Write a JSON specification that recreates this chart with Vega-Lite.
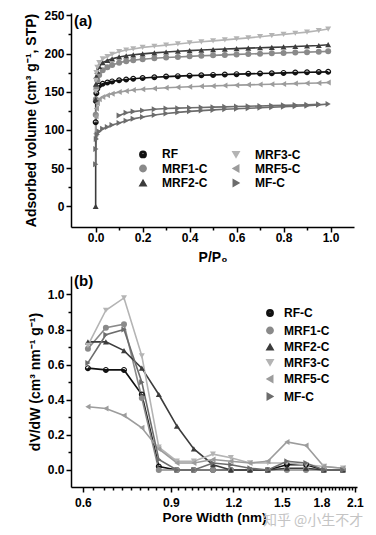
{
  "$schema": "https://vega.github.io/schema/vega-lite/v6.json",
  "background": "white",
  "padding": {"left": 24, "top": 9, "right": 5, "bottom": 5},
  "config": {
    "font": "Liberation Sans",
    "view": {"stroke": null},
    "axis": {"grid": false, "domainColor": "black", "domainWidth": 1.5, "tickColor": "black", "tickWidth": 1.5, "tickSize": 5,
      "labelFont": "Liberation Sans", "labelFontSize": 12, "labelFontWeight": "bold", "labelColor": "black",
      "titleFont": "Liberation Sans", "titleFontSize": 14, "titleFontWeight": "bold", "titleColor": "black"},
    "legend": {"orient": "none", "title": null, "padding": 0, "symbolSize": 40, "symbolOpacity": 1, "labelFont": "Liberation Sans", "labelFontSize": 12, "labelFontWeight": "bold", "labelColor": "black"}
  },
  "title": {"text": "知乎 @小生不才", "orient": "bottom", "anchor": "end", "font": "Noto Sans CJK SC", "fontSize": 14, "fontWeight": "normal", "color": "#c4c4c4", "dy": -14},
  "datasets": {
    "iso": [
      {"s":"RF","p":0.0002,"v":110,"b":"a"},{"s":"RF","p":0.001,"v":138,"b":"a"},{"s":"RF","p":0.003,"v":148,"b":"a"},{"s":"RF","p":0.007,"v":154,"b":"a"},{"s":"RF","p":0.015,"v":158,"b":"a"},{"s":"RF","p":0.03,"v":160.5,"b":"a"},{"s":"RF","p":0.05,"v":162,"b":"a"},{"s":"RF","p":0.07,"v":163.5,"b":"a"},{"s":"RF","p":0.1,"v":165,"b":"a"},{"s":"RF","p":0.13,"v":166,"b":"a"},{"s":"RF","p":0.16,"v":167,"b":"a"},{"s":"RF","p":0.2,"v":168,"b":"a"},{"s":"RF","p":0.25,"v":169,"b":"a"},{"s":"RF","p":0.3,"v":169.8,"b":"a"},{"s":"RF","p":0.35,"v":170.4,"b":"a"},{"s":"RF","p":0.4,"v":171,"b":"a"},{"s":"RF","p":0.45,"v":171.5,"b":"a"},{"s":"RF","p":0.5,"v":172,"b":"a"},{"s":"RF","p":0.55,"v":172.5,"b":"a"},{"s":"RF","p":0.6,"v":173,"b":"a"},{"s":"RF","p":0.65,"v":173.4,"b":"a"},{"s":"RF","p":0.7,"v":173.8,"b":"a"},{"s":"RF","p":0.75,"v":174.2,"b":"a"},{"s":"RF","p":0.8,"v":174.6,"b":"a"},{"s":"RF","p":0.85,"v":175,"b":"a"},{"s":"RF","p":0.9,"v":175.4,"b":"a"},{"s":"RF","p":0.95,"v":175.7,"b":"a"},{"s":"RF","p":0.99,"v":176,"b":"a"},
      {"s":"MRF1-C","p":0.0002,"v":120,"b":"a"},{"s":"MRF1-C","p":0.001,"v":140,"b":"a"},{"s":"MRF1-C","p":0.003,"v":155,"b":"a"},{"s":"MRF1-C","p":0.007,"v":165,"b":"a"},{"s":"MRF1-C","p":0.015,"v":172,"b":"a"},{"s":"MRF1-C","p":0.03,"v":178,"b":"a"},{"s":"MRF1-C","p":0.05,"v":182,"b":"a"},{"s":"MRF1-C","p":0.07,"v":185,"b":"a"},{"s":"MRF1-C","p":0.1,"v":188,"b":"a"},{"s":"MRF1-C","p":0.13,"v":190,"b":"a"},{"s":"MRF1-C","p":0.16,"v":191.3,"b":"a"},{"s":"MRF1-C","p":0.2,"v":192.5,"b":"a"},{"s":"MRF1-C","p":0.25,"v":193.7,"b":"a"},{"s":"MRF1-C","p":0.3,"v":194.7,"b":"a"},{"s":"MRF1-C","p":0.35,"v":195.5,"b":"a"},{"s":"MRF1-C","p":0.4,"v":196.3,"b":"a"},{"s":"MRF1-C","p":0.45,"v":197,"b":"a"},{"s":"MRF1-C","p":0.5,"v":197.6,"b":"a"},{"s":"MRF1-C","p":0.55,"v":198.2,"b":"a"},{"s":"MRF1-C","p":0.6,"v":198.8,"b":"a"},{"s":"MRF1-C","p":0.65,"v":199.3,"b":"a"},{"s":"MRF1-C","p":0.7,"v":199.8,"b":"a"},{"s":"MRF1-C","p":0.75,"v":200.3,"b":"a"},{"s":"MRF1-C","p":0.8,"v":200.8,"b":"a"},{"s":"MRF1-C","p":0.85,"v":201.3,"b":"a"},{"s":"MRF1-C","p":0.9,"v":201.8,"b":"a"},{"s":"MRF1-C","p":0.95,"v":202.3,"b":"a"},{"s":"MRF1-C","p":0.99,"v":202.8,"b":"a"},
      {"s":"MRF2-C","p":0,"v":0,"b":"a"},{"s":"MRF2-C","p":0.0002,"v":140,"b":"a"},{"s":"MRF2-C","p":0.001,"v":160,"b":"a"},{"s":"MRF2-C","p":0.003,"v":170,"b":"a"},{"s":"MRF2-C","p":0.007,"v":177,"b":"a"},{"s":"MRF2-C","p":0.015,"v":183,"b":"a"},{"s":"MRF2-C","p":0.03,"v":188,"b":"a"},{"s":"MRF2-C","p":0.05,"v":191,"b":"a"},{"s":"MRF2-C","p":0.07,"v":193,"b":"a"},{"s":"MRF2-C","p":0.1,"v":195.5,"b":"a"},{"s":"MRF2-C","p":0.13,"v":197,"b":"a"},{"s":"MRF2-C","p":0.16,"v":198.3,"b":"a"},{"s":"MRF2-C","p":0.2,"v":199.5,"b":"a"},{"s":"MRF2-C","p":0.25,"v":200.8,"b":"a"},{"s":"MRF2-C","p":0.3,"v":202,"b":"a"},{"s":"MRF2-C","p":0.35,"v":203,"b":"a"},{"s":"MRF2-C","p":0.4,"v":203.8,"b":"a"},{"s":"MRF2-C","p":0.45,"v":204.5,"b":"a"},{"s":"MRF2-C","p":0.5,"v":205.2,"b":"a"},{"s":"MRF2-C","p":0.55,"v":205.8,"b":"a"},{"s":"MRF2-C","p":0.6,"v":206.4,"b":"a"},{"s":"MRF2-C","p":0.65,"v":207,"b":"a"},{"s":"MRF2-C","p":0.7,"v":207.5,"b":"a"},{"s":"MRF2-C","p":0.75,"v":208,"b":"a"},{"s":"MRF2-C","p":0.8,"v":208.6,"b":"a"},{"s":"MRF2-C","p":0.85,"v":209.2,"b":"a"},{"s":"MRF2-C","p":0.9,"v":209.8,"b":"a"},{"s":"MRF2-C","p":0.95,"v":210.5,"b":"a"},{"s":"MRF2-C","p":0.99,"v":211.5,"b":"a"},
      {"s":"MRF3-C","p":0.0002,"v":150,"b":"a"},{"s":"MRF3-C","p":0.001,"v":165,"b":"a"},{"s":"MRF3-C","p":0.003,"v":175,"b":"a"},{"s":"MRF3-C","p":0.007,"v":182,"b":"a"},{"s":"MRF3-C","p":0.015,"v":188,"b":"a"},{"s":"MRF3-C","p":0.03,"v":193,"b":"a"},{"s":"MRF3-C","p":0.05,"v":196,"b":"a"},{"s":"MRF3-C","p":0.07,"v":199,"b":"a"},{"s":"MRF3-C","p":0.1,"v":202.5,"b":"a"},{"s":"MRF3-C","p":0.13,"v":204.5,"b":"a"},{"s":"MRF3-C","p":0.16,"v":206,"b":"a"},{"s":"MRF3-C","p":0.2,"v":208,"b":"a"},{"s":"MRF3-C","p":0.25,"v":209.5,"b":"a"},{"s":"MRF3-C","p":0.3,"v":211,"b":"a"},{"s":"MRF3-C","p":0.35,"v":212.5,"b":"a"},{"s":"MRF3-C","p":0.4,"v":214,"b":"a"},{"s":"MRF3-C","p":0.45,"v":215.3,"b":"a"},{"s":"MRF3-C","p":0.5,"v":216.5,"b":"a"},{"s":"MRF3-C","p":0.55,"v":217.8,"b":"a"},{"s":"MRF3-C","p":0.6,"v":219.2,"b":"a"},{"s":"MRF3-C","p":0.65,"v":220.5,"b":"a"},{"s":"MRF3-C","p":0.7,"v":222,"b":"a"},{"s":"MRF3-C","p":0.75,"v":223.5,"b":"a"},{"s":"MRF3-C","p":0.8,"v":225,"b":"a"},{"s":"MRF3-C","p":0.85,"v":226.5,"b":"a"},{"s":"MRF3-C","p":0.9,"v":228,"b":"a"},{"s":"MRF3-C","p":0.95,"v":230,"b":"a"},{"s":"MRF3-C","p":0.99,"v":232,"b":"a"},
      {"s":"MRF5-C","p":0.0002,"v":95,"b":"a"},{"s":"MRF5-C","p":0.001,"v":118,"b":"a"},{"s":"MRF5-C","p":0.003,"v":128,"b":"a"},{"s":"MRF5-C","p":0.007,"v":135,"b":"a"},{"s":"MRF5-C","p":0.015,"v":140,"b":"a"},{"s":"MRF5-C","p":0.03,"v":143,"b":"a"},{"s":"MRF5-C","p":0.05,"v":145.5,"b":"a"},{"s":"MRF5-C","p":0.07,"v":147.5,"b":"a"},{"s":"MRF5-C","p":0.1,"v":149.5,"b":"a"},{"s":"MRF5-C","p":0.13,"v":151,"b":"a"},{"s":"MRF5-C","p":0.16,"v":152.2,"b":"a"},{"s":"MRF5-C","p":0.2,"v":153.3,"b":"a"},{"s":"MRF5-C","p":0.25,"v":154.3,"b":"a"},{"s":"MRF5-C","p":0.3,"v":155.2,"b":"a"},{"s":"MRF5-C","p":0.35,"v":155.9,"b":"a"},{"s":"MRF5-C","p":0.4,"v":156.5,"b":"a"},{"s":"MRF5-C","p":0.45,"v":157.1,"b":"a"},{"s":"MRF5-C","p":0.5,"v":157.6,"b":"a"},{"s":"MRF5-C","p":0.55,"v":158.1,"b":"a"},{"s":"MRF5-C","p":0.6,"v":158.6,"b":"a"},{"s":"MRF5-C","p":0.65,"v":159,"b":"a"},{"s":"MRF5-C","p":0.7,"v":159.4,"b":"a"},{"s":"MRF5-C","p":0.75,"v":159.8,"b":"a"},{"s":"MRF5-C","p":0.8,"v":160.2,"b":"a"},{"s":"MRF5-C","p":0.85,"v":160.6,"b":"a"},{"s":"MRF5-C","p":0.9,"v":161,"b":"a"},{"s":"MRF5-C","p":0.95,"v":161.5,"b":"a"},{"s":"MRF5-C","p":0.99,"v":162,"b":"a"},
      {"s":"MF-C","p":0.0002,"v":55,"b":"a"},{"s":"MF-C","p":0.001,"v":75,"b":"a"},{"s":"MF-C","p":0.003,"v":88,"b":"a"},{"s":"MF-C","p":0.007,"v":94,"b":"a"},{"s":"MF-C","p":0.015,"v":98,"b":"a"},{"s":"MF-C","p":0.03,"v":101.5,"b":"a"},{"s":"MF-C","p":0.05,"v":104,"b":"a"},{"s":"MF-C","p":0.07,"v":106.5,"b":"a"},{"s":"MF-C","p":0.1,"v":109,"b":"a"},{"s":"MF-C","p":0.13,"v":112,"b":"a"},{"s":"MF-C","p":0.16,"v":114.5,"b":"a"},{"s":"MF-C","p":0.2,"v":117,"b":"a"},{"s":"MF-C","p":0.25,"v":119.5,"b":"a"},{"s":"MF-C","p":0.3,"v":121.5,"b":"a"},{"s":"MF-C","p":0.35,"v":123,"b":"a"},{"s":"MF-C","p":0.4,"v":124.3,"b":"a"},{"s":"MF-C","p":0.45,"v":125.3,"b":"a"},{"s":"MF-C","p":0.5,"v":126.2,"b":"a"},{"s":"MF-C","p":0.55,"v":127,"b":"a"},{"s":"MF-C","p":0.6,"v":127.7,"b":"a"},{"s":"MF-C","p":0.65,"v":128.4,"b":"a"},{"s":"MF-C","p":0.7,"v":129,"b":"a"},{"s":"MF-C","p":0.75,"v":129.7,"b":"a"},{"s":"MF-C","p":0.8,"v":130.3,"b":"a"},{"s":"MF-C","p":0.85,"v":131,"b":"a"},{"s":"MF-C","p":0.9,"v":131.8,"b":"a"},{"s":"MF-C","p":0.95,"v":132.8,"b":"a"},{"s":"MF-C","p":0.99,"v":134,"b":"a"},
      {"s":"MF-C","p":0.95,"v":133.5,"b":"d"},{"s":"MF-C","p":0.9,"v":133,"b":"d"},{"s":"MF-C","p":0.85,"v":132.6,"b":"d"},{"s":"MF-C","p":0.8,"v":132.2,"b":"d"},{"s":"MF-C","p":0.75,"v":131.8,"b":"d"},{"s":"MF-C","p":0.7,"v":131.4,"b":"d"},{"s":"MF-C","p":0.65,"v":131,"b":"d"},{"s":"MF-C","p":0.6,"v":130.6,"b":"d"},{"s":"MF-C","p":0.55,"v":130.2,"b":"d"},{"s":"MF-C","p":0.5,"v":129.8,"b":"d"},{"s":"MF-C","p":0.45,"v":129.4,"b":"d"},{"s":"MF-C","p":0.4,"v":129,"b":"d"},{"s":"MF-C","p":0.35,"v":128.5,"b":"d"},{"s":"MF-C","p":0.3,"v":128,"b":"d"},{"s":"MF-C","p":0.25,"v":127,"b":"d"},{"s":"MF-C","p":0.2,"v":125.5,"b":"d"},{"s":"MF-C","p":0.16,"v":124,"b":"d"},{"s":"MF-C","p":0.13,"v":122.5,"b":"d"},{"s":"MF-C","p":0.1,"v":119,"b":"d"}
    ],
    "psd": [
      {"s":"RF-C","w":0.614,"d":0.58},{"s":"RF-C","w":0.667,"d":0.57},{"s":"RF-C","w":0.725,"d":0.57},{"s":"RF-C","w":0.787,"d":0.43},{"s":"RF-C","w":0.851,"d":0.02},{"s":"RF-C","w":0.925,"d":0.0},{"s":"RF-C","w":1.0,"d":0.0},{"s":"RF-C","w":1.092,"d":0.0},{"s":"RF-C","w":1.186,"d":0.0},{"s":"RF-C","w":1.295,"d":0.0},{"s":"RF-C","w":1.406,"d":0.0},{"s":"RF-C","w":1.535,"d":0.03},{"s":"RF-C","w":1.676,"d":0.03},{"s":"RF-C","w":1.82,"d":0.0},{"s":"RF-C","w":1.987,"d":0.0},
      {"s":"MRF1-C","w":0.614,"d":0.69},{"s":"MRF1-C","w":0.667,"d":0.81},{"s":"MRF1-C","w":0.725,"d":0.83},{"s":"MRF1-C","w":0.787,"d":0.41},{"s":"MRF1-C","w":0.851,"d":0.0},{"s":"MRF1-C","w":0.925,"d":0.0},{"s":"MRF1-C","w":1.0,"d":0.0},{"s":"MRF1-C","w":1.092,"d":0.0},{"s":"MRF1-C","w":1.186,"d":0.0},{"s":"MRF1-C","w":1.295,"d":0.0},{"s":"MRF1-C","w":1.406,"d":0.0},{"s":"MRF1-C","w":1.535,"d":0.0},{"s":"MRF1-C","w":1.676,"d":0.0},{"s":"MRF1-C","w":1.82,"d":0.0},{"s":"MRF1-C","w":1.987,"d":0.0},
      {"s":"MRF2-C","w":0.614,"d":0.73},{"s":"MRF2-C","w":0.667,"d":0.73},{"s":"MRF2-C","w":0.725,"d":0.68},{"s":"MRF2-C","w":0.787,"d":0.58},{"s":"MRF2-C","w":0.851,"d":0.43},{"s":"MRF2-C","w":0.925,"d":0.25},{"s":"MRF2-C","w":1.0,"d":0.12},{"s":"MRF2-C","w":1.092,"d":0.03},{"s":"MRF2-C","w":1.186,"d":0.0},{"s":"MRF2-C","w":1.295,"d":0.0},{"s":"MRF2-C","w":1.406,"d":0.0},{"s":"MRF2-C","w":1.535,"d":0.01},{"s":"MRF2-C","w":1.676,"d":0.01},{"s":"MRF2-C","w":1.82,"d":0.0},{"s":"MRF2-C","w":1.987,"d":0.0},
      {"s":"MRF3-C","w":0.614,"d":0.71},{"s":"MRF3-C","w":0.667,"d":0.91},{"s":"MRF3-C","w":0.725,"d":0.98},{"s":"MRF3-C","w":0.787,"d":0.65},{"s":"MRF3-C","w":0.851,"d":0.13},{"s":"MRF3-C","w":0.925,"d":0.05},{"s":"MRF3-C","w":1.0,"d":0.05},{"s":"MRF3-C","w":1.092,"d":0.09},{"s":"MRF3-C","w":1.186,"d":0.07},{"s":"MRF3-C","w":1.295,"d":0.04},{"s":"MRF3-C","w":1.406,"d":0.04},{"s":"MRF3-C","w":1.535,"d":0.04},{"s":"MRF3-C","w":1.676,"d":0.03},{"s":"MRF3-C","w":1.82,"d":0.02},{"s":"MRF3-C","w":1.987,"d":0.01},
      {"s":"MRF5-C","w":0.614,"d":0.36},{"s":"MRF5-C","w":0.667,"d":0.35},{"s":"MRF5-C","w":0.725,"d":0.31},{"s":"MRF5-C","w":0.787,"d":0.24},{"s":"MRF5-C","w":0.851,"d":0.12},{"s":"MRF5-C","w":0.925,"d":0.04},{"s":"MRF5-C","w":1.0,"d":0.04},{"s":"MRF5-C","w":1.092,"d":0.06},{"s":"MRF5-C","w":1.186,"d":0.05},{"s":"MRF5-C","w":1.295,"d":0.04},{"s":"MRF5-C","w":1.406,"d":0.05},{"s":"MRF5-C","w":1.535,"d":0.16},{"s":"MRF5-C","w":1.676,"d":0.14},{"s":"MRF5-C","w":1.82,"d":0.02},{"s":"MRF5-C","w":1.987,"d":0.01},
      {"s":"MF-C","w":0.614,"d":0.61},{"s":"MF-C","w":0.667,"d":0.77},{"s":"MF-C","w":0.725,"d":0.8},{"s":"MF-C","w":0.787,"d":0.5},{"s":"MF-C","w":0.851,"d":0.06},{"s":"MF-C","w":0.925,"d":0.0},{"s":"MF-C","w":1.0,"d":0.0},{"s":"MF-C","w":1.092,"d":0.04},{"s":"MF-C","w":1.186,"d":0.03},{"s":"MF-C","w":1.295,"d":0.01},{"s":"MF-C","w":1.406,"d":0.0},{"s":"MF-C","w":1.535,"d":0.05},{"s":"MF-C","w":1.676,"d":0.04},{"s":"MF-C","w":1.82,"d":0.0},{"s":"MF-C","w":1.987,"d":0.0}
    ]
  },
  "spacing": 49,
  "bounds": "flush",
  "resolve": {"scale": {"color": "independent", "shape": "independent"}, "legend": {"color": "independent", "shape": "independent"}},
  "vconcat": [
    {
      "width": 283,
      "height": 214,
      "title": {"text": "(a)", "anchor": "start", "frame": "group", "dx": 3, "dy": 24, "font": "Liberation Sans", "fontSize": 15, "fontWeight": "bold", "color": "black"},
      "data": {"name": "iso"},
      "layer": [
        {
          "mark": {"type": "line", "strokeWidth": 1.6},
          "encoding": {
            "x": {"field": "p", "type": "quantitative", "scale": {"domain": [-0.105, 1.1], "nice": false, "zero": false},
              "axis": {"orient": "bottom", "values": [0, 0.2, 0.4, 0.6, 0.8, 1.0], "format": ".1f", "title": "P/P₀", "labelPadding": 0, "titlePadding": 7}},
            "y": {"field": "v", "type": "quantitative", "scale": {"domain": [-27, 253], "nice": false, "zero": false},
              "axis": {"orient": "left", "values": [0, 50, 100, 150, 200, 250], "title": "Adsorbed volume (cm³ g⁻¹, STP)", "labelPadding": 2, "titlePadding": 5}},
            "color": {"field": "s", "type": "nominal",
              "scale": {"domain": ["RF", "MRF1-C", "MRF2-C", "MRF3-C", "MRF5-C", "MF-C"], "range": ["#111111", "#8a8a8a", "#3c3c3c", "#b4b4b4", "#9c9c9c", "#6c6c6c"]},
              "legend": {"legendX": 66, "legendY": 135, "columns": 2, "labelOffset": 13, "rowPadding": 0.5, "columnPadding": 21}},
            "detail": {"field": "b", "type": "nominal"}
          }
        },
        {
          "mark": {"type": "point", "filled": true, "size": 36, "opacity": 1},
          "encoding": {
            "x": {"field": "p", "type": "quantitative", "axis": {"orient": "bottom", "values": [0.1, 0.3, 0.5, 0.7, 0.9], "labels": false, "domain": false, "tickSize": 3, "title": null}},
            "y": {"field": "v", "type": "quantitative", "axis": {"orient": "left", "values": [25, 75, 125, 175, 225], "labels": false, "domain": false, "tickSize": 3, "title": null}},
            "color": {"field": "s", "type": "nominal"},
            "shape": {"field": "s", "type": "nominal", "legend": null,
              "scale": {"domain": ["RF", "MRF1-C", "MRF2-C", "MRF3-C", "MRF5-C", "MF-C"], "range": ["M-1,0A1,1 0 1,1 1,0A1,1 0 1,1 -1,0ZM-0.6,0A0.6,0.6 0 1,0 0.6,0A0.6,0.6 0 1,0 -0.6,0ZM-0.6,0A0.6,0.6 0 0,0 0.6,0Z", "circle", "triangle-up", "triangle-down", "triangle-left", "triangle-right"]}}
          }
        }
      ],
      "resolve": {"axis": {"x": "independent", "y": "independent"}}
    },
    {
      "width": 286,
      "height": 211,
      "title": {"text": "(b)", "anchor": "start", "frame": "group", "dx": 3, "dy": 17, "font": "Liberation Sans", "fontSize": 15, "fontWeight": "bold", "color": "black"},
      "data": {"name": "psd"},
      "layer": [
        {
          "mark": {"type": "line", "strokeWidth": 1.6},
          "encoding": {
            "x": {"field": "w", "type": "quantitative", "scale": {"type": "log", "domain": [0.568, 2.12], "nice": false},
              "axis": {"orient": "bottom", "values": [0.6, 0.9, 1.2, 1.5, 1.8, 2.1], "format": ".1f", "title": "Pore Width (nm)", "titleFontSize": 13.5, "labelPadding": 5, "titlePadding": 2}},
            "y": {"field": "d", "type": "quantitative", "scale": {"domain": [-0.097, 1.105], "nice": false, "zero": false},
              "axis": {"orient": "left", "values": [0, 0.2, 0.4, 0.6, 0.8, 1.0], "format": ".1f", "title": "dV/dW (cm³ nm⁻¹ g⁻¹)", "labelPadding": 2, "titlePadding": 5}},
            "color": {"field": "s", "type": "nominal",
              "scale": {"domain": ["RF-C", "MRF1-C", "MRF2-C", "MRF3-C", "MRF5-C", "MF-C"], "range": ["#111111", "#8a8a8a", "#3c3c3c", "#b4b4b4", "#9c9c9c", "#6c6c6c"]},
              "legend": {"legendX": 193, "legendY": 31, "columns": 1, "labelOffset": 8, "rowPadding": 3.5}}
          }
        },
        {
          "mark": {"type": "point", "filled": true, "size": 36, "opacity": 1},
          "encoding": {
            "x": {"field": "w", "type": "quantitative", "axis": {"orient": "bottom", "values": [0.63,0.66,0.69,0.72,0.75,0.78,0.81,0.84,0.87,0.93,0.96,0.99,1.02,1.05,1.08,1.11,1.14,1.17,1.23,1.26,1.29,1.32,1.35,1.38,1.41,1.44,1.47,1.53,1.56,1.59,1.62,1.65,1.68,1.71,1.74,1.77,1.83,1.86,1.89,1.92,1.95,1.98,2.01,2.04,2.07], "labels": false, "domain": false, "tickSize": 3, "title": null}},
            "y": {"field": "d", "type": "quantitative", "axis": {"orient": "left", "values": [0.1, 0.3, 0.5, 0.7, 0.9], "labels": false, "domain": false, "tickSize": 3, "title": null}},
            "color": {"field": "s", "type": "nominal"},
            "shape": {"field": "s", "type": "nominal", "legend": null,
              "scale": {"domain": ["RF-C", "MRF1-C", "MRF2-C", "MRF3-C", "MRF5-C", "MF-C"], "range": ["M-1,0A1,1 0 1,1 1,0A1,1 0 1,1 -1,0ZM-0.6,0A0.6,0.6 0 1,0 0.6,0A0.6,0.6 0 1,0 -0.6,0ZM-0.6,0A0.6,0.6 0 0,0 0.6,0Z", "circle", "triangle-up", "triangle-down", "triangle-left", "triangle-right"]}}
          }
        }
      ],
      "resolve": {"axis": {"x": "independent", "y": "independent"}}
    }
  ]
}
